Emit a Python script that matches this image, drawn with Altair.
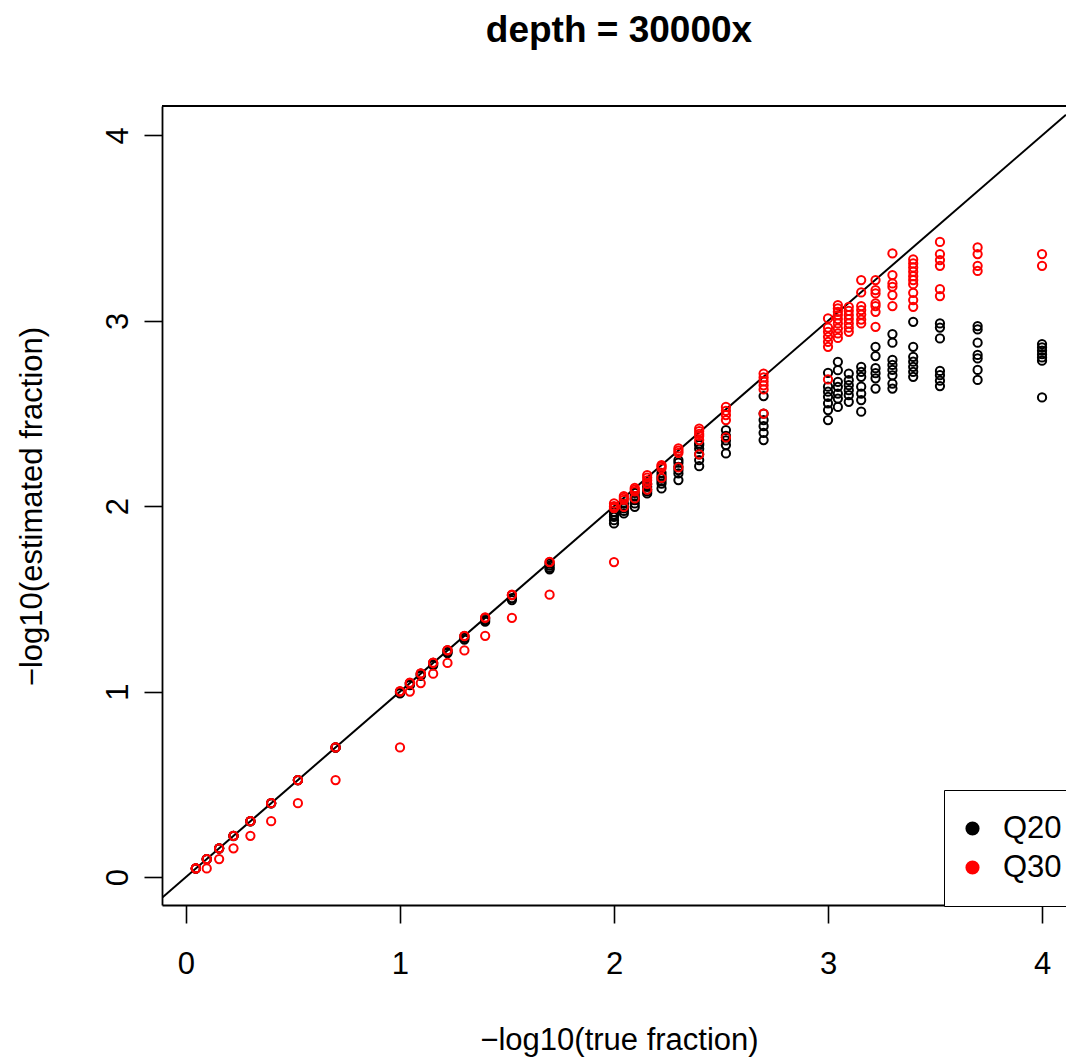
import altair as alt
import pandas as pd

# -log10(true fraction) for each spike-in level
x_true = [0.046, 0.097, 0.155, 0.222, 0.301, 0.398, 0.523, 0.699,
          1.0, 1.046, 1.097, 1.155, 1.222, 1.301, 1.398, 1.523, 1.699,
          2.0, 2.046, 2.097, 2.155, 2.222, 2.301, 2.398, 2.523, 2.699,
          3.0, 3.046, 3.097, 3.155, 3.222, 3.301, 3.398, 3.523, 3.699, 4.0]

# -log10(estimated fraction), Q20 filter (black)
q20_est = [
    [0.046, 0.046, 0.045],
    [0.097, 0.097, 0.096],
    [0.155, 0.155, 0.154],
    [0.222, 0.222, 0.221],
    [0.301, 0.301, 0.300],
    [0.398, 0.398, 0.397],
    [0.523, 0.523, 0.522],
    [0.699, 0.699, 0.698],
    [1.0, 0.995, 0.99],
    [1.046, 1.04, 1.035],
    [1.097, 1.09, 1.085],
    [1.155, 1.148, 1.142],
    [1.222, 1.214, 1.208],
    [1.30, 1.29, 1.281],
    [1.395, 1.386, 1.377],
    [1.52, 1.505, 1.494],
    [1.69, 1.68, 1.668, 1.66],
    [1.97, 1.955, 1.943, 1.925, 1.907],
    [2.015, 2.0, 1.988, 1.975, 1.961],
    [2.072, 2.055, 2.042, 2.033, 2.015, 1.997],
    [2.12, 2.105, 2.09, 2.08, 2.069],
    [2.18, 2.165, 2.15, 2.136, 2.122, 2.096],
    [2.249, 2.235, 2.213, 2.195, 2.177, 2.141],
    [2.339, 2.33, 2.31, 2.28, 2.249, 2.216],
    [2.411, 2.38, 2.371, 2.355, 2.33, 2.285],
    [2.594, 2.5, 2.465, 2.432, 2.396, 2.357],
    [2.72, 2.645, 2.618, 2.59, 2.555, 2.519, 2.465],
    [2.779, 2.734, 2.671, 2.644, 2.608, 2.581, 2.536],
    [2.716, 2.68, 2.653, 2.626, 2.599, 2.563],
    [2.752, 2.725, 2.698, 2.645, 2.608, 2.573, 2.51],
    [2.86, 2.81, 2.745, 2.718, 2.69, 2.635],
    [2.929, 2.882, 2.789, 2.762, 2.735, 2.706, 2.662, 2.635],
    [2.995, 2.86, 2.806, 2.78, 2.752, 2.725, 2.698],
    [2.986, 2.964, 2.905, 2.73, 2.707, 2.677, 2.648],
    [2.972, 2.954, 2.882, 2.816, 2.797, 2.735, 2.681],
    [2.875, 2.857, 2.839, 2.82, 2.803, 2.785, 2.587],
]

# -log10(estimated fraction), Q30 filter (red)
q30_est = [
    [0.046, 0.046, 0.046],
    [0.097, 0.097, 0.046],
    [0.155, 0.155, 0.097],
    [0.222, 0.222, 0.155],
    [0.301, 0.301, 0.222],
    [0.398, 0.398, 0.301],
    [0.523, 0.523, 0.398],
    [0.699, 0.699, 0.523],
    [1.003, 1.0, 0.699],
    [1.048, 1.046, 1.0],
    [1.098, 1.097, 1.046],
    [1.156, 1.155, 1.097],
    [1.224, 1.222, 1.155],
    [1.30, 1.301, 1.222],
    [1.40, 1.398, 1.301],
    [1.523, 1.521, 1.398],
    [1.70, 1.699, 1.523],
    [2.015, 2.0, 1.997, 1.99, 1.699],
    [2.055, 2.045, 2.035, 1.997],
    [2.099, 2.09, 2.08, 2.042],
    [2.168, 2.155, 2.14, 2.12, 2.09],
    [2.222, 2.215, 2.205, 2.153],
    [2.312, 2.3, 2.288, 2.209],
    [2.419, 2.405, 2.39, 2.379, 2.357, 2.28],
    [2.536, 2.515, 2.492, 2.465, 2.371],
    [2.716, 2.695, 2.673, 2.652, 2.63, 2.50],
    [3.013, 2.964, 2.941, 2.914, 2.887, 2.86, 2.684],
    [3.085, 3.067, 3.049, 3.031, 3.01, 2.986, 2.959, 2.932, 2.908],
    [3.076, 3.054, 3.031, 3.01, 2.986, 2.963, 2.941],
    [3.22, 3.153, 3.08, 3.058, 3.034, 3.007, 2.986],
    [3.22, 3.166, 3.148, 3.094, 3.08, 3.049, 2.968],
    [3.364, 3.247, 3.202, 3.184, 3.139, 3.08],
    [3.331, 3.31, 3.288, 3.265, 3.241, 3.22, 3.198, 3.151, 3.112, 3.076],
    [3.426, 3.36, 3.328, 3.297, 3.171, 3.134],
    [3.396, 3.36, 3.297, 3.269],
    [3.36, 3.297],
]

series_names = ["Q20", "Q30"]
series_colors = ["#000000", "#FF0000"]
x_lim = [-0.112, 4.112]
y_lim = [-0.151, 4.159]

rows = []
for name, table in zip(series_names, [q20_est, q30_est]):
    for xv, ys in zip(x_true, table):
        for yv in ys:
            rows.append({"x": xv, "y": yv, "filter": name})
df = pd.DataFrame(rows)
# identity line y = x across the visible x range
diag = pd.DataFrame({"x": x_lim, "y": x_lim})

FONT = "Liberation Sans"
W, H = 904, 799

xscale = alt.Scale(domain=x_lim, nice=False, zero=False)
yscale = alt.Scale(domain=y_lim, nice=False, zero=False)

xaxis = alt.Axis(values=[0, 1, 2, 3, 4], format="d", grid=False,
                 domain=True, domainColor="black", domainWidth=1.8,
                 ticks=True, tickColor="black", tickWidth=1.6, tickSize=18,
                 labelFont=FONT, labelFontSize=31, labelColor="black",
                 labelPadding=50, labelBaseline="alphabetic",
                 title="\u2212log10(true fraction)", titleFont=FONT,
                 titleFontSize=31, titleFontWeight="normal", titleColor="black",
                 titleX=457, titleY=144, titleBaseline="alphabetic")
yaxis = alt.Axis(values=[0, 1, 2, 3, 4], format="d", grid=False,
                 domain=True, domainColor="black", domainWidth=1.8,
                 ticks=True, tickColor="black", tickWidth=1.6, tickSize=18,
                 labelFont=FONT, labelFontSize=31, labelColor="black",
                 labelAngle=-90, labelAlign="center", labelBaseline="alphabetic",
                 labelPadding=17,
                 title="\u2212log10(estimated fraction)", titleFont=FONT,
                 titleFontSize=31, titleFontWeight="normal", titleColor="black",
                 titleX=-121, titleY=400, titleAngle=270, titleBaseline="alphabetic")

line = alt.Chart(diag).mark_line(color="black", strokeWidth=2, clip=True).encode(
    x=alt.X("x:Q", scale=xscale, axis=xaxis),
    y=alt.Y("y:Q", scale=yscale, axis=yaxis),
)

points = alt.Chart(df).mark_point(filled=False, shape="circle", size=68,
                                  strokeWidth=2, opacity=1, clip=True).encode(
    x=alt.X("x:Q", scale=xscale),
    y=alt.Y("y:Q", scale=yscale),
    color=alt.Color("filter:N", scale=alt.Scale(domain=series_names, range=series_colors),
                    legend=None),
)

legend_layer = alt.Chart(df).transform_filter("false").mark_circle(opacity=1).encode(
    color=alt.Color("filter:N", scale=alt.Scale(domain=series_names, range=series_colors),
                    legend=alt.Legend(title=None, orient="none", legendX=782, legendY=684,
                                      padding=23, strokeColor="black", fillColor="white",
                                      symbolType="circle", symbolSize=200,
                                      symbolStrokeWidth=0, symbolOpacity=1,
                                      symbolOffset=-10,
                                      labelFont=FONT, labelFontSize=31, labelColor="black",
                                      labelOffset=15, rowPadding=7, labelLimit=200)),
)

top_border = alt.Chart(pd.DataFrame({"k": [0]})).mark_rule(
    color="black", strokeWidth=1.8).encode(
    x=alt.value(0), x2=alt.value(W), y=alt.value(0))

chart = alt.layer(line, points, legend_layer, top_border).resolve_scale(
    color="independent"
).properties(
    width=W, height=H,
    autosize=alt.AutoSizeParams(type="none"),
    padding={"left": 162, "top": 106, "right": 0, "bottom": 157},
    title=alt.TitleParams("depth = 30000x", font=FONT, fontSize=37, fontWeight="bold",
                          color="black", anchor="middle", offset=26,
                          baseline="alphabetic", dx=5),
    background="white",
).configure_view(stroke="transparent")

chart.save("out.html", embed_options={"renderer": "svg", "actions": False})
